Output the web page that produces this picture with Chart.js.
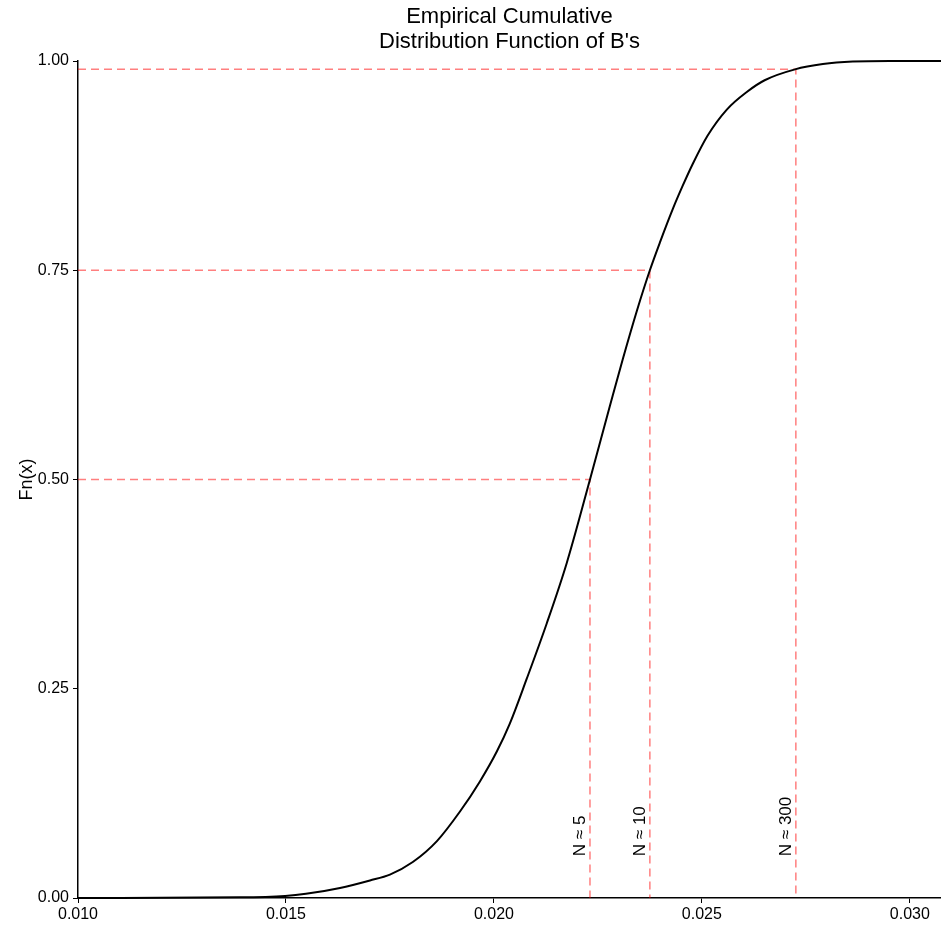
<!DOCTYPE html>
<html>
<head>
<meta charset="utf-8">
<script src="https://cdn.jsdelivr.net/npm/chart.js@4"></script>
<style>
  html, body { margin: 0; padding: 0; background: #fff; }
  canvas { display: block; }
</style>
</head>
<body>
<canvas id="ecdf_chart" width="941" height="925"></canvas>
<script>
// ECDF curve
const ecdfX = [0.01000, 0.01389, 0.01498, 0.01548, 0.01630, 0.01702, 0.01750, 0.01805, 0.01863, 0.01918,
               0.01966, 0.02007, 0.02038, 0.02079, 0.02127, 0.02175, 0.02231, 0.02279, 0.02310, 0.02344,
               0.02375, 0.02399, 0.02430, 0.02454, 0.02478, 0.02514, 0.02560, 0.02608, 0.02651, 0.02724,
               0.02791, 0.02863, 0.02952, 0.03075];
const ecdfY = [0.0000, 0.0008, 0.0025, 0.0050, 0.0120, 0.0210, 0.0280, 0.0430, 0.0680, 0.1030,
               0.1390, 0.1750, 0.2080, 0.2620, 0.3280, 0.4000, 0.5000, 0.5880, 0.6440, 0.7020,
               0.7500, 0.7830, 0.8230, 0.8510, 0.8770, 0.9110, 0.9420, 0.9630, 0.9770, 0.9900,
               0.9963, 0.9993, 1.0000, 1.0000];

// reference quantiles
const quantileLevels = [0.50, 0.75, 0.99];
const quantileX = [0.02231, 0.02375, 0.02726];
const quantileLabels = ['N \u2248 5', 'N \u2248 10', 'N \u2248 300'];
const labelLevel = 0.05;

// axes
const xTicks = [0.010, 0.015, 0.020, 0.025, 0.030];
const yTicks = [0.00, 0.25, 0.50, 0.75, 1.00];
const xMin = 0.010, xMax = 0.03075;

const titleLines = ['Empirical Cumulative', "Distribution Function of B's"];
const yTitle = 'Fn(x)';

const FONT = '"Liberation Sans", Arial, Helvetica, sans-serif';
const refColor = 'rgba(255, 0, 0, 0.5)';

const datasets = [{
    data: ecdfX.map((x, i) => ({ x: x, y: ecdfY[i] })),
    borderColor: '#000',
    borderWidth: 2,
    pointRadius: 0,
    cubicInterpolationMode: 'monotone',
    clip: 6
}];
quantileLevels.forEach((q, i) => {
    datasets.push({
        data: [{ x: xMin, y: q }, { x: quantileX[i], y: q }, { x: quantileX[i], y: 0 }],
        borderColor: refColor,
        borderWidth: 1.5,
        borderDash: [8, 5],
        pointRadius: 0,
        tension: 0,
        clip: 6
    });
});

// title, y axis title and the N labels
const textPlugin = {
    id: 'textPlugin',
    afterDraw(chart) {
        const ctx = chart.ctx;
        const area = chart.chartArea;
        const xs = chart.scales.x, ys = chart.scales.y;
        ctx.save();
        ctx.fillStyle = '#000';

        ctx.font = '22px ' + FONT;
        ctx.textAlign = 'center';
        ctx.textBaseline = 'alphabetic';
        const cx = (area.left + area.right) / 2;
        titleLines.forEach((line, i) => ctx.fillText(line, cx, 23 + i * 25));

        ctx.save();
        ctx.font = '18px ' + FONT;
        ctx.translate(27, (area.top + area.bottom) / 2);
        ctx.rotate(-Math.PI / 2);
        ctx.textBaseline = 'middle';
        ctx.fillText(yTitle, 0, 0);
        ctx.restore();

        ctx.font = '17px ' + FONT;
        quantileX.forEach((x, i) => {
            ctx.save();
            ctx.translate(xs.getPixelForValue(x) - 5, ys.getPixelForValue(labelLevel));
            ctx.rotate(-Math.PI / 2);
            ctx.textAlign = 'left';
            ctx.textBaseline = 'alphabetic';
            ctx.fillText(quantileLabels[i], 0, 0);
            ctx.restore();
        });
        ctx.restore();
    }
};

new Chart(document.getElementById('ecdf_chart'), {
    type: 'line',
    data: { datasets: datasets },
    options: {
        responsive: false,
        animation: false,
        layout: { padding: { top: 61, right: 0, left: 0, bottom: 0 } },
        plugins: {
            legend: { display: false },
            tooltip: { enabled: false },
            title: { display: false }
        },
        scales: {
            x: {
                type: 'linear',
                min: xMin,
                max: xMax,
                afterFit: (scale) => { scale.height = 27; },
                afterBuildTicks: (scale) => { scale.ticks = xTicks.map(v => ({ value: v })); },
                ticks: {
                    callback: (v) => Number(v).toFixed(3),
                    font: { family: FONT, size: 16 },
                    color: '#000',
                    padding: 2,
                    maxRotation: 0
                },
                grid: { drawOnChartArea: false, drawTicks: true, tickLength: 5, color: '#000' },
                border: { display: true, color: '#000', width: 1.5 }
            },
            y: {
                type: 'linear',
                min: 0,
                max: 1,
                afterFit: (scale) => { scale.width = 78; },
                afterBuildTicks: (scale) => { scale.ticks = yTicks.map(v => ({ value: v })); },
                ticks: {
                    callback: (v) => Number(v).toFixed(2),
                    font: { family: FONT, size: 16 },
                    color: '#000',
                    padding: 4
                },
                grid: { drawOnChartArea: false, drawTicks: true, tickLength: 5, color: '#000' },
                border: { display: true, color: '#000', width: 1.5 }
            }
        }
    },
    plugins: [textPlugin]
});
</script>
</body>
</html>
